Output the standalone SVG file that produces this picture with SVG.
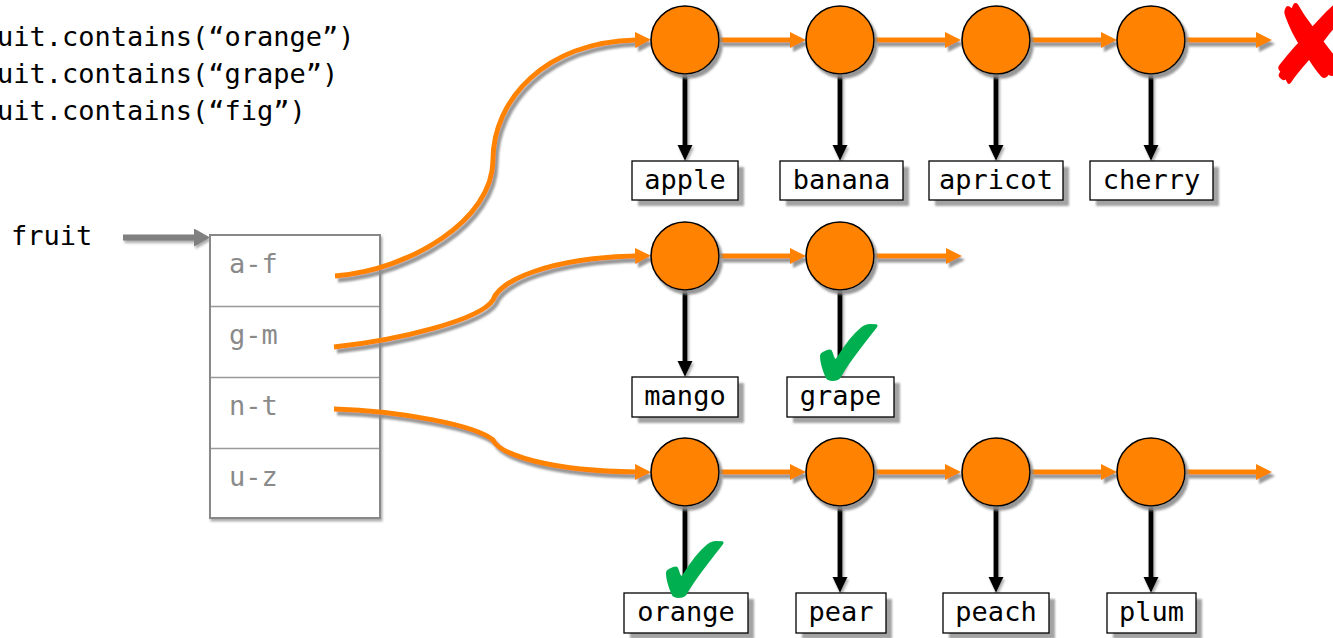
<svg xmlns="http://www.w3.org/2000/svg" width="1333" height="638" viewBox="0 0 1333 638">
  <defs>
    <style>
      .mono { font-family: "DejaVu Sans Mono", "Liberation Mono", monospace; }
      .code { font-size: 27px; fill: #000; }
      .label { font-size: 27px; fill: #000; text-anchor: middle; }
      .bucket { font-size: 27px; fill: #8a8a8a; }
      .node { fill: #ff8200; stroke: #000; stroke-width: 1.6; }
      .link { fill: none; stroke: #ff8200; stroke-width: 5; }
      .ref { fill: none; stroke: #000; stroke-width: 5; }
      .box { fill: #fff; stroke: #000; stroke-width: 1.3; }
      .boxshadow { fill: #a3a3a3; }
      .mark { font-family: "DejaVu Sans", sans-serif; }
    </style>
    <filter id="shade" filterUnits="userSpaceOnUse" x="0" y="0" width="1333" height="638">
      <feDropShadow dx="3" dy="4" stdDeviation="0.8" flood-color="#8c8c8c" flood-opacity="0.9"/>
    </filter>
    <filter id="shadeSoft" filterUnits="userSpaceOnUse" x="0" y="0" width="1333" height="638">
      <feDropShadow dx="1.5" dy="2.5" stdDeviation="0.8" flood-color="#999" flood-opacity="0.8"/>
    </filter>
    <filter id="blur1" x="-10%" y="-10%" width="120%" height="120%">
      <feGaussianBlur stdDeviation="1"/>
    </filter>
    <marker id="headOrange" viewBox="0 0 16 16" markerWidth="16" markerHeight="16" refX="1" refY="8" orient="auto" markerUnits="userSpaceOnUse">
      <path d="M0,0 L16,8 L0,16 z" fill="#ff8200"/>
    </marker>
    <marker id="headBlack" viewBox="0 0 16 16" markerWidth="16" markerHeight="16" refX="1" refY="8" orient="auto" markerUnits="userSpaceOnUse">
      <path d="M0,0.5 L16,8 L0,15.5 z" fill="#000"/>
    </marker>
    <marker id="headGray" viewBox="0 0 16 18" markerWidth="16" markerHeight="18" refX="1" refY="9" orient="auto" markerUnits="userSpaceOnUse">
      <path d="M0,0 L16,9 L0,18 z" fill="#808080"/>
    </marker>
  </defs>

  <!-- query lines -->
  <g id="queries" class="mono code">
    <text x="-35.5" y="46">fruit.contains(“orange”)</text>
    <text x="-35.5" y="83">fruit.contains(“grape”)</text>
    <text x="-35.5" y="120">fruit.contains(“fig”)</text>
  </g>

  <!-- variable and pointer into the table -->
  <g id="fruit">
    <text class="mono code" x="11" y="245">fruit</text>
    <path d="M123,237.5 H195" stroke="#808080" stroke-width="6" fill="none" marker-end="url(#headGray)" filter="url(#shadeSoft)"/>
  </g>

  <!-- bucket table -->
  <g id="table">
    <rect x="210" y="235" width="170" height="283" fill="#fff" stroke="#888" stroke-width="2" filter="url(#shadeSoft)"/>
    <path d="M211,306.5 H379 M211,377.5 H379 M211,448.5 H379" stroke="#999" stroke-width="1.5"/>
    <text class="mono bucket" x="229" y="273">a-f</text>
    <text class="mono bucket" x="229" y="344">g-m</text>
    <text class="mono bucket" x="229" y="415">n-t</text>
    <text class="mono bucket" x="229" y="486">u-z</text>
  </g>

  <!-- chain links -->
  <g id="connectors" filter="url(#shade)">
    <path class="link" d="M335,276 C410,270 493,220 493,160 C493,100 545,42 636,40" marker-end="url(#headOrange)"/>
    <path class="link" d="M334,347 C400,340 480,320 493,300 C500,280 550,258 636,256" marker-end="url(#headOrange)"/>
    <path class="link" d="M334,409 C400,411 475,425 493,440 C500,455 550,471 636,472" marker-end="url(#headOrange)"/>

    <path class="link" d="M719,40 H791" marker-end="url(#headOrange)"/>
    <path class="link" d="M874,40 H946" marker-end="url(#headOrange)"/>
    <path class="link" d="M1030,40 H1102" marker-end="url(#headOrange)"/>
    <path class="link" d="M1185,40 H1257" marker-end="url(#headOrange)"/>

    <path class="link" d="M719,256 H791" marker-end="url(#headOrange)"/>
    <path class="link" d="M874,256 H947" marker-end="url(#headOrange)"/>

    <path class="link" d="M719,472 H791" marker-end="url(#headOrange)"/>
    <path class="link" d="M874,472 H946" marker-end="url(#headOrange)"/>
    <path class="link" d="M1030,472 H1102" marker-end="url(#headOrange)"/>
    <path class="link" d="M1185,472 H1257" marker-end="url(#headOrange)"/>
  </g>

  <g id="refs" filter="url(#shadeSoft)">
    <path class="ref" d="M685,74 V146" marker-end="url(#headBlack)"/>
    <path class="ref" d="M840,74 V146" marker-end="url(#headBlack)"/>
    <path class="ref" d="M996,74 V146" marker-end="url(#headBlack)"/>
    <path class="ref" d="M1151,74 V146" marker-end="url(#headBlack)"/>

    <path class="ref" d="M685,290 V362" marker-end="url(#headBlack)"/>
    <path class="ref" d="M840,290 V362" marker-end="url(#headBlack)"/>

    <path class="ref" d="M685,506 V578" marker-end="url(#headBlack)"/>
    <path class="ref" d="M840,506 V578" marker-end="url(#headBlack)"/>
    <path class="ref" d="M996,506 V578" marker-end="url(#headBlack)"/>
    <path class="ref" d="M1151,506 V578" marker-end="url(#headBlack)"/>
  </g>

  <!-- chain nodes -->
  <g id="nodes-af" filter="url(#shade)">
    <circle id="n-apple" class="node" cx="685" cy="40" r="34"/>
    <circle id="n-banana" class="node" cx="840" cy="40" r="34"/>
    <circle id="n-apricot" class="node" cx="996" cy="40" r="34"/>
    <circle id="n-cherry" class="node" cx="1151" cy="40" r="34"/>
  </g>
  <g id="nodes-gm" filter="url(#shade)">
    <circle id="n-mango" class="node" cx="685" cy="256" r="34"/>
    <circle id="n-grape" class="node" cx="840" cy="256" r="34"/>
  </g>
  <g id="nodes-nt" filter="url(#shade)">
    <circle id="n-orange" class="node" cx="685" cy="472" r="34"/>
    <circle id="n-pear" class="node" cx="840" cy="472" r="34"/>
    <circle id="n-peach" class="node" cx="996" cy="472" r="34"/>
    <circle id="n-plum" class="node" cx="1151" cy="472" r="34"/>
  </g>

  <!-- value boxes -->
  <g id="v-apple">
    <rect class="boxshadow" x="638" y="167" width="106" height="39" filter="url(#blur1)"/>
    <rect class="box" x="632" y="161" width="106" height="39"/>
    <text class="mono label" x="685" y="188.5">apple</text>
  </g>
  <g id="v-banana">
    <rect class="boxshadow" x="786" y="167" width="123" height="39" filter="url(#blur1)"/>
    <rect class="box" x="780" y="161" width="123" height="39"/>
    <text class="mono label" x="841.5" y="188.5">banana</text>
  </g>
  <g id="v-apricot">
    <rect class="boxshadow" x="935" y="167" width="134" height="39" filter="url(#blur1)"/>
    <rect class="box" x="929" y="161" width="134" height="39"/>
    <text class="mono label" x="996" y="188.5">apricot</text>
  </g>
  <g id="v-cherry">
    <rect class="boxshadow" x="1096" y="167" width="123" height="39" filter="url(#blur1)"/>
    <rect class="box" x="1090" y="161" width="123" height="39"/>
    <text class="mono label" x="1151.5" y="188.5">cherry</text>
  </g>

  <g id="v-mango">
    <rect class="boxshadow" x="638" y="383" width="106" height="40" filter="url(#blur1)"/>
    <rect class="box" x="632" y="377" width="106" height="40"/>
    <text class="mono label" x="685" y="405">mango</text>
  </g>
  <g id="v-grape">
    <rect class="boxshadow" x="793" y="383" width="107" height="40" filter="url(#blur1)"/>
    <rect class="box" x="787" y="377" width="107" height="40"/>
    <text class="mono label" x="840.5" y="405">grape</text>
  </g>

  <g id="v-orange">
    <rect class="boxshadow" x="630" y="599" width="124" height="40" filter="url(#blur1)"/>
    <rect class="box" x="624" y="593" width="124" height="40"/>
    <text class="mono label" x="686" y="620.5">orange</text>
  </g>
  <g id="v-pear">
    <rect class="boxshadow" x="802" y="599" width="90" height="40" filter="url(#blur1)"/>
    <rect class="box" x="796" y="593" width="90" height="40"/>
    <text class="mono label" x="841" y="620.5">pear</text>
  </g>
  <g id="v-peach">
    <rect class="boxshadow" x="949" y="599" width="106" height="40" filter="url(#blur1)"/>
    <rect class="box" x="943" y="593" width="106" height="40"/>
    <text class="mono label" x="996" y="620.5">peach</text>
  </g>
  <g id="v-plum">
    <rect class="boxshadow" x="1113" y="599" width="89" height="40" filter="url(#blur1)"/>
    <rect class="box" x="1107" y="593" width="89" height="40"/>
    <text class="mono label" x="1151.5" y="620.5">plum</text>
  </g>

  <!-- lookup results -->
  <g id="results" class="mark">
    <text x="1264" y="84" font-size="116" fill="#ff0000">✘</text>
    <text transform="translate(809,390) scale(1,1.1)" font-size="95" fill="#00b050">✔</text>
    <text transform="translate(655,607) scale(1,1.1)" font-size="95" fill="#00b050">✔</text>
  </g>
</svg>
